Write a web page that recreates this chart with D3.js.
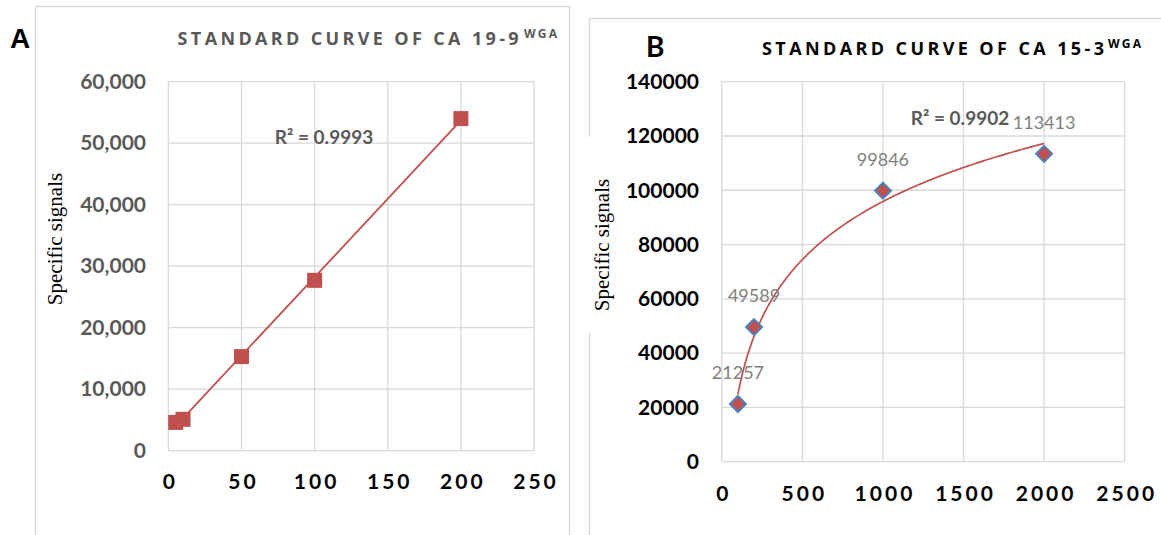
<!DOCTYPE html>
<html lang="en">
<head>
<meta charset="utf-8">
<title>Standard curves</title>
<script src="https://d3js.org/d3.v7.min.js"></script>
<style>
  body { margin: 0; background: #fff; }
  svg { display: block; }
  .grid { stroke: #d9d9d9; stroke-width: 1.3; }
  .frame { stroke: #d9d9d9; stroke-width: 1.3; fill: none; }
</style>
</head>
<body>
<div id="chart"></div>
<script>
// panel A : CA 19-9
var concA = [5, 10, 50, 100, 200];
var signalA = [4600, 5100, 15300, 27700, 54000];
var xTicksA = [0, 50, 100, 150, 200, 250];
var yTicksA = [0, 10000, 20000, 30000, 40000, 50000, 60000];
var r2A = "R² = 0.9993";

// panel B : CA 15-3
var concB = [100, 200, 1000, 2000];
var signalB = [21257, 49589, 99846, 113413];
var xTicksB = [0, 500, 1000, 1500, 2000, 2500];
var yTicksB = [0, 20000, 40000, 60000, 80000, 100000, 120000, 140000];
var r2B = "R² = 0.9902";

var red = "#c0504d", blue = "#4f81bd";

var svg = d3.select("#chart").append("svg")
    .attr("width", 1161)
    .attr("height", 535);

// outer frames of the two figures
svg.append("path").attr("class", "frame").attr("d", "M35.5,535V6.5H569.5V535");
svg.append("path").attr("class", "frame").attr("d", "M589.5,137V18.5H1161");
svg.append("path").attr("class", "frame").attr("d", "M589.5,332V535");

// grid, axes and scales of one panel
function panel(cfg) {
    var x = d3.scaleLinear().domain([0, d3.max(cfg.xTicks)]).range([cfg.left, cfg.right]);
    var y = d3.scaleLinear().domain([0, d3.max(cfg.yTicks)]).range([cfg.bottom, cfg.top]);
    var g = svg.append("g");

    g.selectAll(".vgrid").data(cfg.xTicks).enter().append("line")
        .attr("class", "grid")
        .attr("x1", function(d) { return x(d); })
        .attr("x2", function(d) { return x(d); })
        .attr("y1", cfg.top).attr("y2", cfg.bottom);
    g.selectAll(".hgrid").data(cfg.yTicks).enter().append("line")
        .attr("class", "grid")
        .attr("y1", function(d) { return y(d); })
        .attr("y2", function(d) { return y(d); })
        .attr("x1", cfg.left).attr("x2", cfg.right);

    var ya = g.append("g")
        .attr("transform", "translate(" + cfg.left + ",0)")
        .call(d3.axisLeft(y).tickValues(cfg.yTicks).tickSize(0)
            .tickPadding(cfg.left - cfg.yLabelRight).tickFormat(cfg.yFormat));
    ya.select(".domain").remove();
    ya.selectAll("text")
        .attr("fill", cfg.yColor)
        .style("font-family", "Lato, sans-serif")
        .style("font-weight", 700)
        .style("font-size", "21px");

    var xa = g.append("g")
        .attr("transform", "translate(0," + cfg.bottom + ")")
        .call(d3.axisBottom(x).tickValues(cfg.xTicks).tickSize(0).tickFormat(d3.format("d")));
    xa.select(".domain").remove();
    xa.selectAll("text")
        .attr("y", cfg.xLabelOffset)
        .attr("dy", "0.35em")
        .attr("dx", 1.5)
        .attr("fill", "#000")
        .style("font-family", "Lato, sans-serif")
        .style("font-weight", 700)
        .style("font-size", "21px")
        .style("letter-spacing", "3px");

    // title + superscript
    svg.append("text")
        .attr("x", cfg.titleX).attr("y", cfg.titleY)
        .attr("textLength", cfg.titleW).attr("lengthAdjust", "spacing")
        .attr("fill", cfg.titleColor)
        .style("font-family", "'Open Sans', sans-serif")
        .style("font-weight", 700).style("font-size", "18px")
        .text(cfg.title);
    svg.append("text")
        .attr("x", cfg.supX).attr("y", cfg.titleY - 7)
        .attr("textLength", cfg.supW).attr("lengthAdjust", "spacing")
        .attr("fill", cfg.titleColor)
        .style("font-family", "'Open Sans', sans-serif")
        .style("font-weight", 700).style("font-size", "12px")
        .text("WGA");

    // y axis label
    svg.append("text")
        .attr("transform", "translate(" + cfg.yTitleX + "," + cfg.yTitleY + ") rotate(-90)")
        .attr("text-anchor", "middle")
        .attr("fill", "#000")
        .style("font-family", "'Liberation Serif', 'Times New Roman', serif")
        .style("font-size", "21px")
        .text("Specific signals");

    return { x: x, y: y, g: g };
}

// ---------- A ----------
var A = panel({
    left: 168.4, right: 534, top: 81.7, bottom: 450.7,
    xTicks: xTicksA, yTicks: yTicksA, yFormat: d3.format(","),
    yColor: "#595959", yLabelRight: 146, xLabelOffset: 31,
    title: "STANDARD CURVE OF CA 19-9", titleX: 177.6, titleY: 45, titleW: 341,
    supX: 524, supW: 33, titleColor: "#595959",
    yTitleX: 62, yTitleY: 239
});

// linear trend line
var mxA = d3.mean(concA), myA = d3.mean(signalA);
var slopeA = d3.sum(concA, function(c, i) { return (c - mxA) * (signalA[i] - myA); }) /
             d3.sum(concA, function(c) { return (c - mxA) * (c - mxA); });
var icptA = myA - slopeA * mxA;
var ext = d3.extent(concA);
A.g.append("line")
    .attr("x1", A.x(ext[0])).attr("y1", A.y(icptA + slopeA * ext[0]))
    .attr("x2", A.x(ext[1])).attr("y2", A.y(icptA + slopeA * ext[1]))
    .attr("stroke", red).attr("stroke-width", 1.8);

A.g.selectAll(".sq").data(concA).enter().append("rect")
    .attr("x", function(d) { return A.x(d) - 7.5; })
    .attr("y", function(d, i) { return A.y(signalA[i]) - 7.5; })
    .attr("width", 15).attr("height", 15)
    .attr("fill", red);

svg.append("text")
    .attr("x", 324).attr("y", 137.5).attr("dy", "0.35em")
    .attr("text-anchor", "middle").attr("fill", "#595959")
    .style("font-family", "Lato, sans-serif").style("font-weight", 700).style("font-size", "19px")
    .text(r2A);

svg.append("text")
    .attr("x", 10).attr("y", 48)
    .style("font-family", "'Liberation Sans', Arial, sans-serif")
    .style("font-weight", 700).style("font-size", "28px")
    .text("A");

// ---------- B ----------
var B = panel({
    left: 721.8, right: 1124.7, top: 81.7, bottom: 461.7,
    xTicks: xTicksB, yTicks: yTicksB, yFormat: d3.format("d"),
    yColor: "#000", yLabelRight: 699, xLabelOffset: 31.6,
    title: "STANDARD CURVE OF CA 15-3", titleX: 762, titleY: 55, titleW: 342,
    supX: 1108, supW: 33, titleColor: "#000",
    yTitleX: 608.5, yTitleY: 245
});

// logarithmic trend line y = a ln(x) + b
var lnB = concB.map(Math.log);
var mxB = d3.mean(lnB), myB = d3.mean(signalB);
var aB = d3.sum(lnB, function(l, i) { return (l - mxB) * (signalB[i] - myB); }) /
         d3.sum(lnB, function(l) { return (l - mxB) * (l - mxB); });
var bB = myB - aB * mxB;
var extB = d3.extent(concB);
var curve = d3.range(extB[0], extB[1] + 1, 5);
B.g.append("path")
    .datum(curve)
    .attr("fill", "none")
    .attr("stroke", red)
    .attr("stroke-width", 1.7)
    .attr("d", d3.line()
        .x(function(d) { return B.x(d); })
        .y(function(d) { return B.y(aB * Math.log(d) + bB); }));

B.g.selectAll(".dia").data(concB).enter().append("path")
    .attr("transform", function(d, i) { return "translate(" + B.x(d) + "," + B.y(signalB[i]) + ")"; })
    .attr("d", "M0,-8L8,0L0,8L-8,0Z")
    .attr("fill", red)
    .attr("stroke", blue)
    .attr("stroke-width", 2);

B.g.selectAll(".lbl").data(concB).enter().append("text")
    .attr("x", function(d) { return B.x(d); })
    .attr("y", function(d, i) { return B.y(signalB[i]) - 31; })
    .attr("dy", "0.35em")
    .attr("text-anchor", "middle")
    .attr("fill", "#808080")
    .style("font-family", "Lato, sans-serif").style("font-size", "18px")
    .text(function(d, i) { return signalB[i]; });

svg.append("text")
    .attr("x", 960).attr("y", 118).attr("dy", "0.35em")
    .attr("text-anchor", "middle").attr("fill", "#595959")
    .style("font-family", "Lato, sans-serif").style("font-weight", 700).style("font-size", "19px")
    .text(r2B);

svg.append("text")
    .attr("x", 646).attr("y", 57)
    .style("font-family", "Lato, sans-serif")
    .style("font-weight", 700).style("font-size", "28px")
    .text("B");
</script>
</body>
</html>
